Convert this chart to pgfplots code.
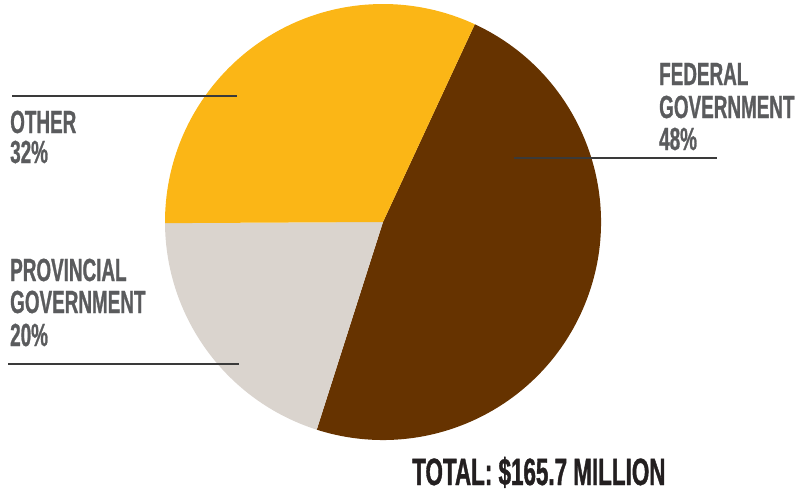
\documentclass[border=0pt]{standalone}
\usepackage{pgfplots}
\pgfplotsset{compat=1.18}
\usepackage{pgfplotstable}
\usepackage{fontspec}
\setmainfont{Liberation Sans}
\newfontfamily\lab{Liberation Sans}[FakeStretch=0.59, FakeBold=0.8]
\newfontfamily\tot{Liberation Sans}[FakeStretch=0.59, FakeBold=1.0]
\definecolor{fedc}{HTML}{663300}
\definecolor{provc}{HTML}{DAD4CE}
\definecolor{othc}{HTML}{FBB616}
\definecolor{labc}{HTML}{5A5B5D}
\definecolor{totc}{HTML}{231F20}
\definecolor{linec}{HTML}{3A3A3A}
\pgfplotstableread{
label value
Federal 48
Provincial 20
Other 32
}\piedata
\begin{document}
\begin{tikzpicture}
\pgfplotstablegetelem{0}{value}\of\piedata \edef\vA{\pgfplotsretval}
\pgfplotstablegetelem{1}{value}\of\piedata \edef\vB{\pgfplotsretval}
\pgfplotstablegetelem{2}{value}\of\piedata \edef\vC{\pgfplotsretval}
\pgfmathsetmacro\aA{65.1}
\pgfmathsetmacro\aB{\aA-3.6*\vA}
\pgfmathsetmacro\aC{\aB-3.6*\vB}
\pgfmathsetmacro\aD{\aC-3.6*\vC}
\begin{axis}[x=1pt,y=1pt,xmin=0,xmax=797,ymin=0,ymax=493,y dir=reverse,
  hide axis, clip=false]
\coordinate (ll) at (axis cs:0,493);
\coordinate (ur) at (axis cs:797,0);
\fill[fedc] (axis cs:383,222) -- ++(\aA:218pt) arc[start angle=\aA, end angle=\aB, radius=218pt] -- cycle;
\fill[provc] (axis cs:383,222) -- ++(\aB:218pt) arc[start angle=\aB, end angle=\aC, radius=218pt] -- cycle;
\fill[othc] (axis cs:383,222) -- ++(\aC:218pt) arc[start angle=\aC, end angle=\aD, radius=218pt] -- cycle;
\draw[linec, line width=1.3pt] (axis cs:12,96) -- (axis cs:237,96);
\draw[linec, line width=1.3pt] (axis cs:514,158) -- (axis cs:717,158);
\draw[linec, line width=1.3pt] (axis cs:8,364) -- (axis cs:239,364);
\begin{scope}[every node/.style={anchor=base west, inner sep=0pt, text=labc, font=\lab\bfseries\fontsize{32}{34}\selectfont}]
\node at (axis cs:10,133) {OTHER};
\node at (axis cs:10,163) {32\%};
\node at (axis cs:659,85) {FEDERAL};
\node at (axis cs:659,118) {GOVERNMENT};
\node at (axis cs:659,150) {48\%};
\node at (axis cs:10,281) {PROVINCIAL};
\node at (axis cs:10,313) {GOVERNMENT};
\node at (axis cs:10,346) {20\%};
\end{scope}
\node[anchor=base west, inner sep=0pt, text=totc, font=\tot\bfseries\fontsize{38}{40}\selectfont] at (axis cs:412,485) {TOTAL: \$165.7 MILLION};
\end{axis}
\pgfresetboundingbox
\path (ll) rectangle (ur);
\end{tikzpicture}
\end{document}
